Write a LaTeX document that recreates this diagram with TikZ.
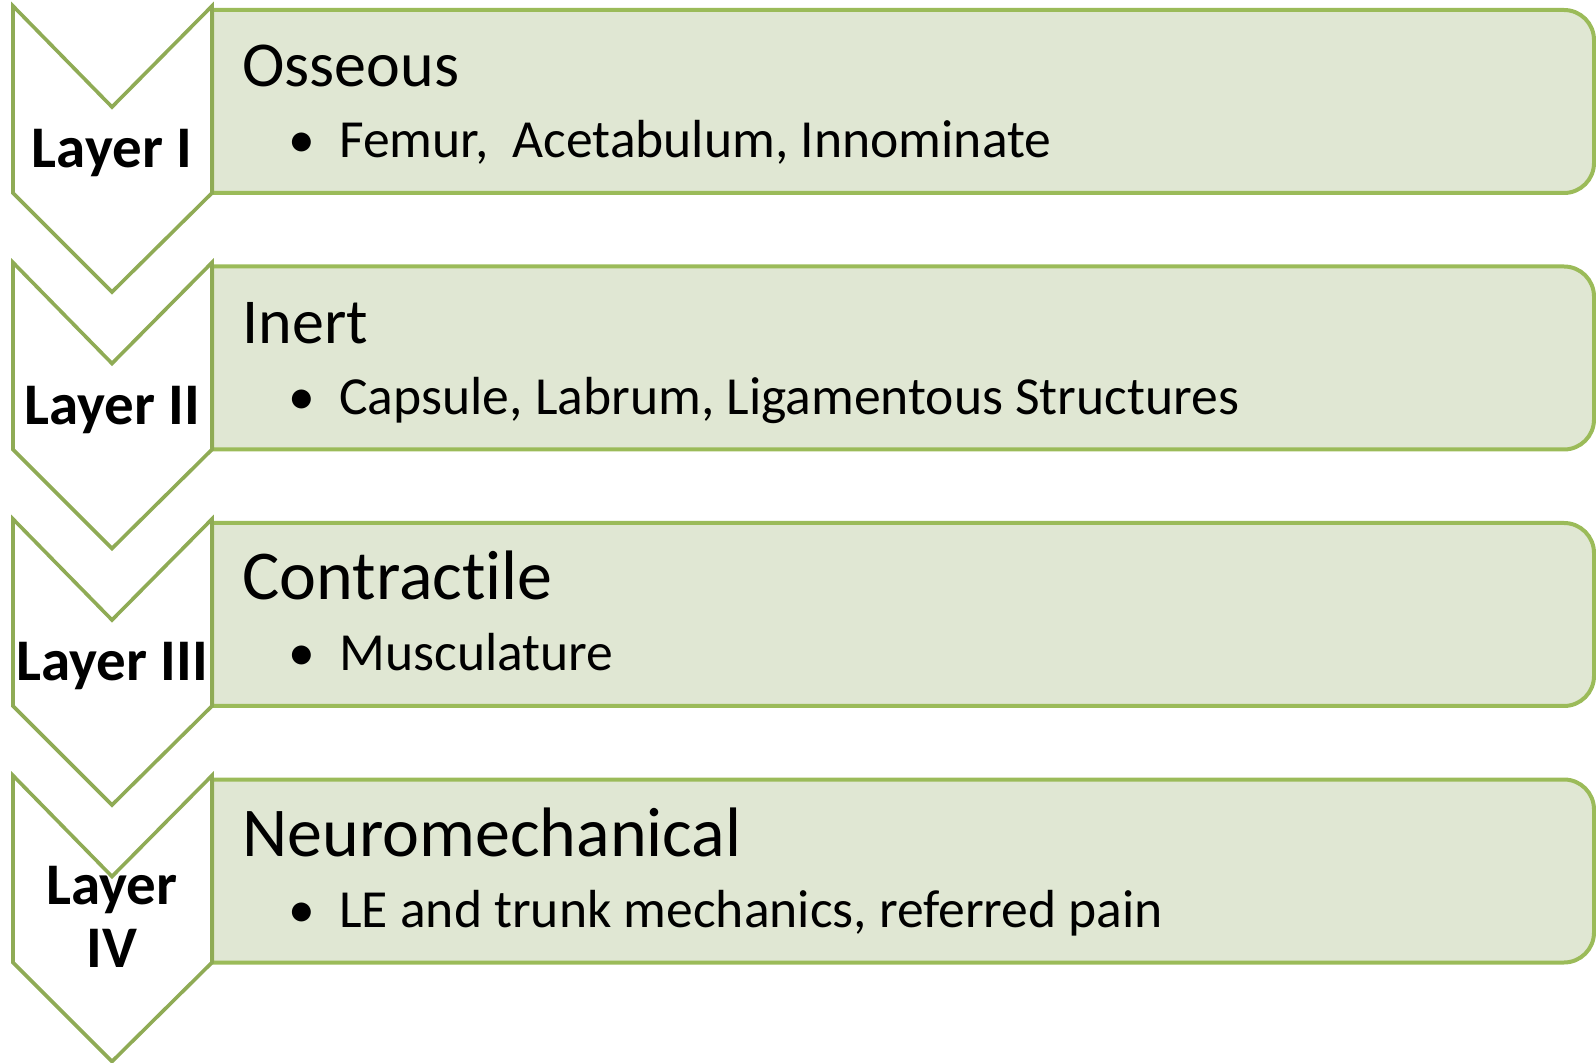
\documentclass[tikz,border=0pt]{standalone}
\usepackage{fontspec}
\setmainfont{Carlito}[Ligatures={NoCommon}]
\usepackage{xcolor}
\usepackage{tikz}

\definecolor{boxline}{HTML}{9BBB59}
\definecolor{boxfill}{HTML}{E0E7D3}
\definecolor{chevline}{HTML}{8FAB55}

\begin{document}
\begin{tikzpicture}[
    x=0.5pt, y=-0.5pt,
    layerbox/.style={draw=boxline, fill=boxfill, line width=2pt, line join=round},
    chevron/.style={draw=chevline, fill=white, line width=1.8pt, line join=miter},
    layerlabel/.style={font=\fontsize{29.5}{31.5}\selectfont\bfseries, align=center, inner sep=0pt, anchor=base},
    heading/.style={font=\fontsize{32}{38}\selectfont, inner sep=0pt, anchor=base west},
    bigheading/.style={heading, font=\fontsize{35}{40}\selectfont},
    item/.style={font=\fontsize{26.8}{32}\selectfont, inner sep=0pt, anchor=base west},
    dot/.style={font=\fontsize{26.8}{32}\selectfont, inner sep=0pt, anchor=base},
]
\useasboundingbox (0,0) rectangle (1596,1063);

% Boxes
\draw [layerbox] (212,193) -- (212,10) -- (1564,10) arc[start angle=-90, end angle=0, radius=30]
    -- (1594,163) arc[start angle=0, end angle=90, radius=30] -- cycle;
\draw [layerbox] (212,449.5) -- (212,266.5) -- (1564,266.5) arc[start angle=-90, end angle=0, radius=30]
    -- (1594,419.5) arc[start angle=0, end angle=90, radius=30] -- cycle;
\draw [layerbox] (212,706) -- (212,523) -- (1564,523) arc[start angle=-90, end angle=0, radius=30]
    -- (1594,676) arc[start angle=0, end angle=90, radius=30] -- cycle;
\draw [layerbox] (212,962.5) -- (212,779.5) -- (1564,779.5) arc[start angle=-90, end angle=0, radius=30]
    -- (1594,932.5) arc[start angle=0, end angle=90, radius=30] -- cycle;

% Chevrons
\draw [chevron] (13,6) -- (112,107) -- (212,6) -- (212,193) -- (112,292) -- (13,193) -- cycle;
\draw [chevron] (13,262.5) -- (112,363.5) -- (212,262.5) -- (212,449.5) -- (112,548.5) -- (13,449.5) -- cycle;
\draw [chevron] (13,519) -- (112,620) -- (212,519) -- (212,706) -- (112,805) -- (13,706) -- cycle;
\draw [chevron] (13,775.5) -- (112,876.5) -- (212,775.5) -- (212,962.5) -- (112,1061.5) -- (13,962.5) -- cycle;

% Layer labels
\node (lay1) [layerlabel] at (112,168) {Layer I};
\node (lay2) [layerlabel] at (112,424.5) {Layer II};
\node (lay3) [layerlabel] at (112,681) {Layer III};
\node (lay4) [layerlabel] at (112,967) {Layer\\IV};

% Headings
\node (osseous) [heading] at (242,87) {Osseous};
\node (inert) [heading] at (242,343.5) {Inert};
\node (contract) [bigheading] at (242,600) {Contractile};
\node (neuro) [bigheading] at (242,856.5) {Neuromechanical};

% Items
\node (dot1) [dot] at (302,158) {\textbullet};
\node (osseous-items) [item] at (339,158) {Femur,\ \ Acetabulum, Innominate};
\node (dot2) [dot] at (302,414.5) {\textbullet};
\node (inert-items) [item] at (339,414.5) {Capsule, Labrum, Ligamentous Structures};
\node (dot3) [dot] at (302,671) {\textbullet};
\node (contract-items) [item] at (339,671) {Musculature};
\node (dot4) [dot] at (302,927.5) {\textbullet};
\node (neuro-items) [item] at (339,927.5) {LE and trunk mechanics, referred pain};

\end{tikzpicture}
\end{document}
